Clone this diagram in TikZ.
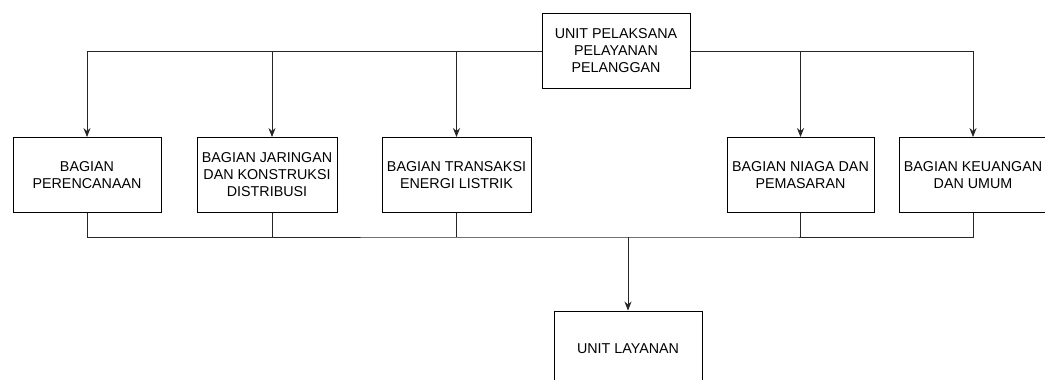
\documentclass[tikz,border=0pt]{standalone}
\usepackage{fontspec}
\setmainfont{Liberation Sans}
\usetikzlibrary{arrows.meta,positioning}

\begin{document}
\begin{tikzpicture}[x=1pt, y=-1pt,
  unitbox/.style={draw=black, fill=white, line width=0.9pt,
                  font=\fontsize{14.3}{17}\selectfont, align=center,
                  inner sep=0pt, minimum height=75pt},
  link/.style={draw=black!85, line width=0.8pt},
  arr/.style={link, -{Stealth[length=9pt, width=7pt]}}
]
\useasboundingbox (0,0) rectangle (1045,380);
% top unit
\node[unitbox, minimum width=148pt] (upp) at (616,51)
  {UNIT PELAKSANA\\PELAYANAN\\PELANGGAN};
% divisions
\node[unitbox, minimum width=148pt] (perencanaan) at (87,175)    {BAGIAN\\PERENCANAAN};
\node[unitbox, minimum width=140pt] (jaringan)    at (267,175)   {BAGIAN JARINGAN\\DAN KONSTRUKSI\\DISTRIBUSI};
\node[unitbox, minimum width=149pt] (transaksi)   at (456.5,175) {BAGIAN TRANSAKSI\\ENERGI LISTRIK};
\node[unitbox, minimum width=147pt] (niaga)       at (800.5,175) {BAGIAN NIAGA DAN\\PEMASARAN};
\node[unitbox, minimum width=148pt] (keuangan)    at (973,175)   {BAGIAN KEUANGAN\\DAN UMUM};
% service unit
\node[unitbox, minimum width=148pt] (layanan)     at (628,348.5) {UNIT LAYANAN};
\coordinate (bus) at (628,237);
% from top unit
\draw[arr] (upp.west) -| (perencanaan.north);
\draw[arr] (upp.east) -| (keuangan.north);
\draw[arr] ([xshift=5pt]jaringan.north |- upp.west) -- ([xshift=5pt]jaringan.north);
\draw[arr] (transaksi.north |- upp.west) -- (transaksi.north);
\draw[arr] (niaga.north |- upp.east) -- (niaga.north);
% to service unit
\draw[link] (perencanaan.south) |- (bus) -| (keuangan.south);
\draw[link] ([xshift=5pt]jaringan.south) -- ([xshift=5pt]jaringan.south |- bus);
\draw[link] (transaksi.south) -- (transaksi.south |- bus);
\draw[link] (niaga.south) -- (niaga.south |- bus);
\draw[arr] (bus) -- (layanan.north);
\end{tikzpicture}
\end{document}
